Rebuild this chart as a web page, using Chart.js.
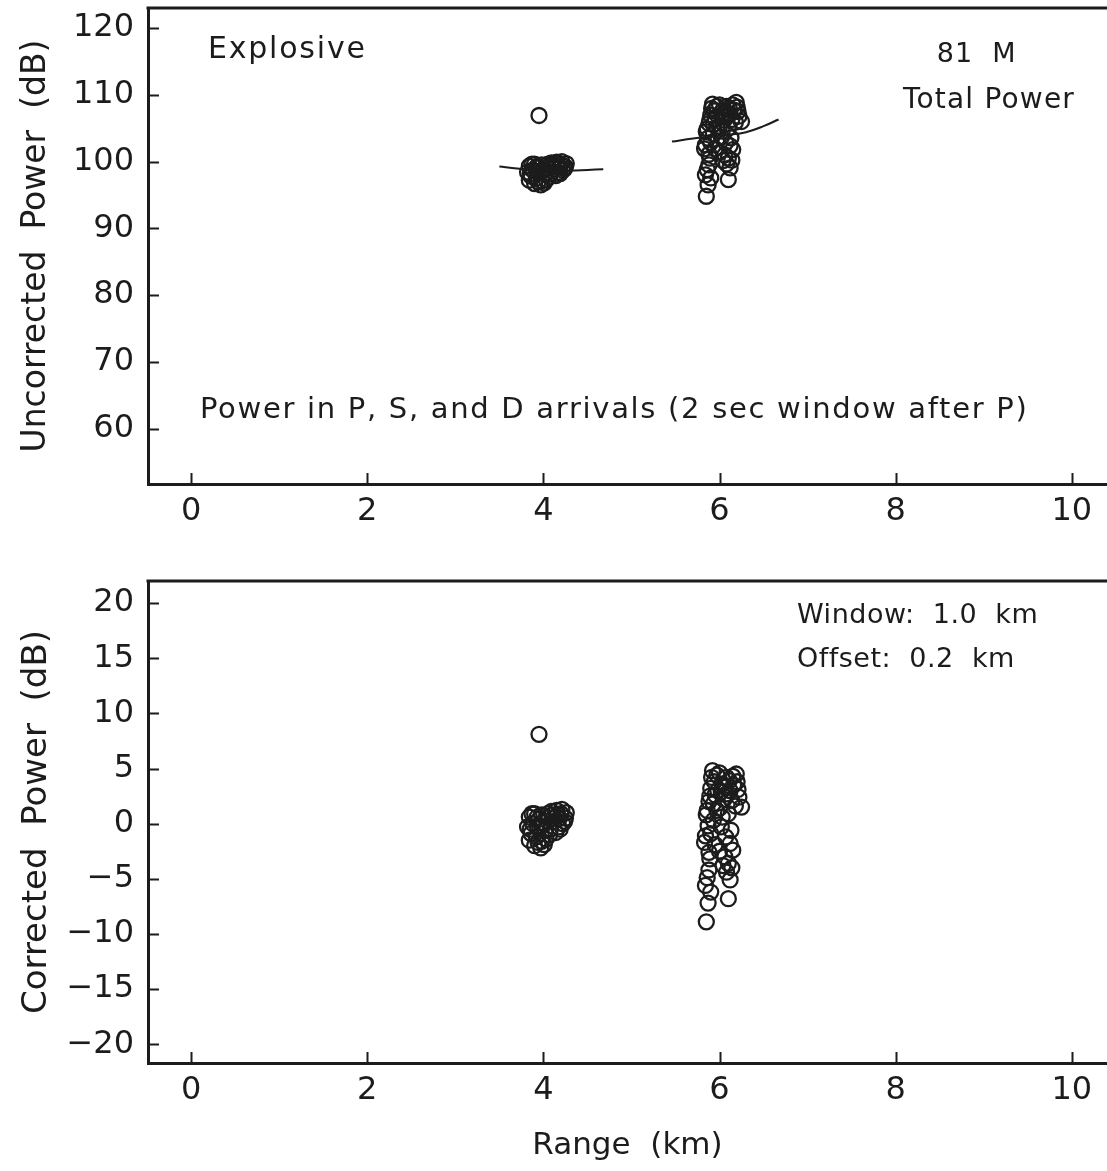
<!DOCTYPE html>
<html>
<head>
<meta charset="utf-8">
<title>Explosive – 81 M total power vs range</title>
<script src="https://cdn.jsdelivr.net/npm/chart.js@4.4.1/dist/chart.umd.min.js"></script>
<style>
  html, body { margin: 0; padding: 0; background: #fff; overflow: hidden; }
  #wrap { position: relative; width: 1107px; height: 1171px; background: #fff; }
  canvas { position: absolute; left: 0; display: block; }
  #upper { top: 0; }
  #lower { top: 560px; }
</style>
</head>
<body>
<div id="wrap">
  <canvas id="upper" width="1107" height="560"></canvas>
  <canvas id="lower" width="1107" height="611"></canvas>
</div>
<script>
// ---- Range of each arrival (km) ----
const rangeKm = [
  3.95, 4.10, 4.15, 4.20, 4.25, 4.22, 4.17, 4.12, 4.08, 4.05,
  4.18, 4.26, 4.14, 3.84, 3.90, 3.95, 3.88, 3.82, 3.93, 3.98,
  4.00, 3.86, 3.92, 3.98, 3.90, 3.97, 4.03, 4.07, 3.84, 4.02,
  4.11, 4.16, 4.21, 4.24, 4.19, 3.87, 3.93, 3.85, 4.09, 3.96,
  4.01, 3.94,
  5.92, 5.97, 6.08, 6.15, 6.20, 6.03, 5.90, 6.12, 6.22, 5.95,
  6.05, 5.88, 6.18, 6.25, 6.00, 6.10, 5.85, 5.93, 5.87, 6.02,
  6.13, 5.90, 6.07, 5.83, 5.95, 6.12, 6.00, 6.06, 5.88, 6.15,
  5.88, 5.84, 5.90, 5.87, 5.85, 6.08, 6.12, 6.10, 6.04, 5.98,
  6.16, 5.93, 6.08, 5.86, 6.03,
  5.91, 6.00, 6.11, 6.19, 5.94, 6.06, 6.21, 5.89, 6.02, 6.14,
  5.97, 5.84, 5.89, 6.10, 5.86, 6.14
];

// ---- Uncorrected total power (dB) ----
const uncorrectedDb = [
  106.9, 99.5, 99.9, 99.6, 99.2, 98.7, 98.4, 98.9, 98.2, 99.6,
  99.2, 99.7, 97.9, 99.3, 99.6, 99.1, 98.7, 98.4, 98.5, 99.5,
  98.8, 97.8, 97.5, 97.1, 96.7, 96.5, 97.3, 97.7, 97.2, 98.1,
  99.2, 99.5, 100.0, 98.9, 98.2, 99.6, 99.3, 98.2, 99.8, 98.3,
  96.8, 97.0,
  108.6, 108.25, 108.25, 108.5, 108.15, 107.55, 106.95, 107.15, 106.8, 106.4,
  106.2, 105.7, 105.9, 106.0, 105.3, 105.0, 104.45, 104.1, 103.5, 103.65,
  103.55, 102.85, 102.85, 101.9, 101.9, 102.35, 101.4, 101.0, 101.1, 101.8,
  99.5, 98.0, 97.55, 96.5, 94.8, 99.65, 99.05, 97.3, 100.15, 106.85,
  107.75, 105.6, 106.75, 104.9, 104.55,
  107.95, 108.5, 108.0, 108.85, 107.6, 107.3, 107.5, 106.2, 106.85, 106.3,
  105.05, 102.5, 100.5, 100.5, 98.8, 100.2
];

// ---- Corrected power (dB) ----
const correctedDb = [
  8.1, 0.8, 1.2, 0.9, 0.5, 0.0, -0.3, 0.2, -0.5, 0.9,
  0.5, 1.0, -0.8, 0.6, 0.9, 0.4, 0.0, -0.3, -0.2, 0.8,
  0.1, -0.9, -1.2, -1.6, -2.0, -2.2, -1.4, -1.0, -1.5, -0.6,
  0.5, 0.8, 1.3, 0.2, -0.5, 0.9, 0.6, -0.5, 1.1, -0.4,
  -1.9, -1.7,
  4.8, 4.4, 4.2, 4.3, 3.8, 3.6, 3.2, 3.0, 2.4, 2.6,
  2.2, 2.0, 1.6, 1.5, 1.4, 0.9, 0.8, 0.3, -0.2, -0.3,
  -0.6, -0.9, -1.2, -1.7, -1.9, -1.8, -2.5, -3.0, -2.6, -2.4,
  -4.2, -5.6, -6.2, -7.2, -8.9, -4.4, -5.1, -6.8, -3.8, 3.0,
  3.5, 1.8, 2.7, 1.2, 0.6,
  4.2, 4.6, 3.9, 4.5, 3.8, 3.3, 3.1, 2.5, 2.9, 2.1,
  1.2, -1.1, -3.2, -3.6, -4.9, -4.0
];

// ---- Windowed trend of uncorrected power ----
const trendRangeA = [3.5, 3.7, 3.9, 4.1, 4.3, 4.5, 4.68];
const trendPowerA = [99.25, 98.95, 98.75, 98.65, 98.65, 98.75, 98.85];
const trendRangeB = [5.46, 5.7, 5.9, 6.1, 6.3, 6.5, 6.67];
const trendPowerB = [103.0, 103.45, 103.75, 104.0, 104.4, 105.3, 106.3];

// ---- Tick labels ----
const rangeTicks = [0, 2, 4, 6, 8, 10];
const uncorrectedTicks = [60, 70, 80, 90, 100, 110, 120];
const correctedTicks = [-20, -15, -10, -5, 0, 5, 10, 15, 20];

const INK = '#1c1c1c';
const FONT = "'DejaVu Sans', sans-serif";

const pairs = (xs, ys) => xs.map((x, i) => ({ x, y: ys[i] }));
const minus = v => String(v).replace('-', '\u2212');

// Inward tick marks, top frame line and free-standing notes
const framePlugin = {
  id: 'frame',
  afterDraw(chart, args, opts) {
    const { ctx, chartArea: a, scales: { x, y } } = chart;
    ctx.save();
    ctx.strokeStyle = INK;
    ctx.lineWidth = 2;
    ctx.beginPath();
    x.ticks.forEach(t => {
      const px = Math.round(x.getPixelForValue(t.value)) + 0.5;
      ctx.moveTo(px, a.bottom);
      ctx.lineTo(px, a.bottom - 11);
    });
    y.ticks.forEach(t => {
      const py = Math.round(y.getPixelForValue(t.value)) + 0.5;
      ctx.moveTo(a.left, py);
      ctx.lineTo(a.left + 11, py);
    });
    ctx.stroke();
    ctx.lineWidth = 3;
    ctx.beginPath();
    ctx.moveTo(a.left - 1.5, a.top);
    ctx.lineTo(a.right, a.top);
    ctx.stroke();

    ctx.fillStyle = INK;
    ctx.textBaseline = 'middle';
    (opts.notes || []).forEach(n => {
      ctx.font = `${n.size}px ${FONT}`;
      ctx.letterSpacing = (n.spacing || 0) + 'px';
      ctx.textAlign = 'left';
      const w = ctx.measureText(n.text).width;
      let px = x.getPixelForValue(n.x);
      if (n.align === 'center') px -= w / 2;
      ctx.fillText(n.text, px, y.getPixelForValue(n.y));
    });
    ctx.restore();
  }
};

function makePanel(canvasId, cfg) {
  const ctx = document.getElementById(canvasId).getContext('2d');
  return new Chart(ctx, {
    type: 'scatter',
    data: {
      datasets: [
        ...cfg.lines.map(l => ({
          data: l,
          showLine: true,
          borderColor: INK,
          borderWidth: 2,
          pointRadius: 0,
          tension: 0.4,
          fill: false
        })),
        {
          data: pairs(rangeKm, cfg.values),
          pointStyle: 'circle',
          pointRadius: 7.5,
          pointBorderWidth: 2.3,
          pointBorderColor: INK,
          pointBackgroundColor: 'rgba(0,0,0,0)',
          showLine: false
        }
      ]
    },
    options: {
      responsive: false,
      animation: false,
      devicePixelRatio: 1,
      layout: { autoPadding: false, padding: { top: cfg.padTop, left: 0, right: 0, bottom: 0 } },
      plugins: {
        legend: { display: false },
        tooltip: { enabled: false },
        frame: { notes: cfg.notes }
      },
      scales: {
        x: {
          type: 'linear',
          min: -0.49,
          max: 10.4,
          afterBuildTicks: s => { s.ticks = rangeTicks.map(v => ({ value: v })); },
          afterFit: s => { s.height = cfg.xHeight; s.paddingLeft = 0; s.paddingRight = 0; },
          grid: { display: false, drawTicks: false },
          border: { display: true, width: 3, color: INK },
          ticks: {
            color: INK,
            font: { family: FONT, size: 32 },
            padding: 8,
            maxRotation: 0,
            callback: v => minus(v)
          },
          title: cfg.xTitle
        },
        y: {
          type: 'linear',
          min: cfg.yMin,
          max: cfg.yMax,
          afterBuildTicks: s => { s.ticks = cfg.yTicks.map(v => ({ value: v })); },
          afterFit: s => { s.width = 148; s.paddingTop = 0; s.paddingBottom = 0; },
          grid: { display: false, drawTicks: false },
          border: { display: true, width: 3, color: INK },
          ticks: {
            color: INK,
            font: { family: FONT, size: 32 },
            padding: 14,
            callback: v => minus(v)
          },
          title: {
            display: true,
            text: cfg.yTitle,
            color: INK,
            font: { family: FONT, size: cfg.yTitleSize },
            padding: { top: 17, bottom: 0 }
          }
        }
      }
    },
    plugins: [framePlugin]
  });
}

makePanel('upper', {
  values: uncorrectedDb,
  lines: [pairs(trendRangeA, trendPowerA), pairs(trendRangeB, trendPowerB)],
  yMin: 51.7, yMax: 123.0,
  yTicks: uncorrectedTicks,
  yTitle: 'Uncorrected  Power  (dB)',
  yTitleSize: 33,
  padTop: 8,
  xHeight: 76,
  xTitle: { display: false },
  notes: [
    { text: 'Explosive', x: 0.19, y: 116.7, size: 30, spacing: 1.8 },
    { text: '81  M', x: 8.92, y: 115.9, size: 27, align: 'center', spacing: 1 },
    { text: 'Total Power', x: 9.06, y: 109.1, size: 28, align: 'center', spacing: 1.2 },
    { text: 'Power in P, S, and D arrivals (2 sec window after P)', x: 0.1, y: 62.7, size: 29, spacing: 1.7 }
  ]
});

makePanel('lower', {
  values: correctedDb,
  lines: [],
  yMin: -21.7, yMax: 22.0,
  yTicks: correctedTicks,
  yTitle: 'Corrected  Power  (dB)',
  yTitleSize: 34,
  padTop: 21,
  xHeight: 108,
  xTitle: {
    display: true,
    text: 'Range  (km)',
    color: INK,
    font: { family: FONT, size: 31 },
    padding: { top: 0, bottom: 6 }
  },
  notes: [
    { text: 'Window:  1.0  km', x: 6.88, y: 18.8, size: 27, spacing: 0.5 },
    { text: 'Offset:  0.2  km', x: 6.88, y: 14.8, size: 27, spacing: 0.5 }
  ]
});
</script>
</body>
</html>
